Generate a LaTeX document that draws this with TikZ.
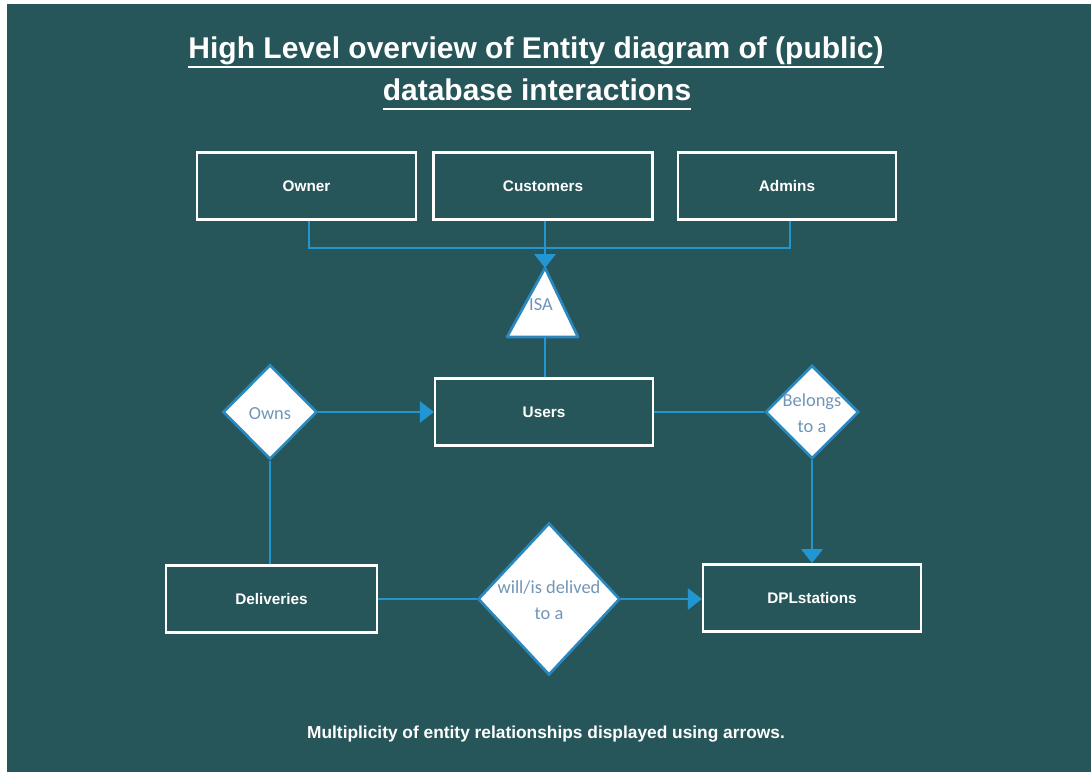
\documentclass[tikz,border=0pt]{standalone}
\usepackage{fontspec}
\setmainfont{Liberation Sans}
\newfontfamily\dfont{Carlito}
\usetikzlibrary{arrows.meta,shapes.geometric}
\definecolor{bg}{HTML}{27565A}
\definecolor{lnblue}{HTML}{2196D2}
\definecolor{dborder}{HTML}{2A88BE}
\definecolor{dtext}{HTML}{7095B8}
\newcommand{\dlab}[1]{\smash{\makebox[0pt]{\raisebox{-5.6pt}{\begin{tabular}{@{}c@{}}#1\end{tabular}}}}}
\begin{document}
\begin{tikzpicture}[x=0.75pt,y=-0.75pt,
  entity/.style={draw=white,line width=1.8pt,inner sep=0pt,minimum height=50.5pt,
    font=\fontsize{11.5}{14}\selectfont\bfseries,text=white},
  rel/.style={diamond,aspect=1,draw=dborder,line width=2pt,fill=white,inner sep=0pt,
    text=dtext,font=\dfont\fontsize{13.8}{19.5}\selectfont},
  conn/.style={draw=lnblue,line width=1.7pt},
  arr/.style={-{Triangle[length=10.5pt,width=16pt]}},
  title/.style={inner sep=0pt,text=white,font=\fontsize{22.5}{27}\selectfont\bfseries,anchor=base},
  uline/.style={draw=white,line width=1.5pt}]
\useasboundingbox (0,0) rectangle (1091,772);
\fill[white] (0,0) rectangle (1091,772);
\fill[bg] (7,4) rectangle (1091,772);

% title
\node[title] (t1) at (536,58) {High Level overview of Entity diagram of (public)};
\node[title] (t2) at (537,100) {database interactions};
\draw[uline] ([yshift=-6.5pt]t1.base west) -- ([yshift=-6.5pt]t1.base east);
\draw[uline] ([yshift=-6.5pt]t2.base west) -- ([yshift=-6.5pt]t2.base east);

% entities
\node[entity,minimum width=164pt] (owner) at (306.5,186) {Owner};
\node[entity,minimum width=164pt] (customers) at (543,186) {Customers};
\node[entity,minimum width=163.5pt] (admins) at (787,186) {Admins};
\node[entity,minimum width=163.5pt] (users) at (544,412) {Users};
\node[entity,minimum width=158.5pt] (deliveries) at (271.5,599) {Deliveries};
\node[entity,minimum width=163.5pt] (dpl) at (812,598) {DPLstations};

% ISA triangle
\coordinate (isatop) at (545,268);
\coordinate (isabot) at (545,337);
\draw[draw=dborder,line width=2pt,fill=white,line join=round] (isatop) -- (578,337) -- (507,337) -- cycle;
\node[inner sep=0pt,text=dtext,font=\dfont\fontsize{13.8}{16}\selectfont] (isa) at (541,305) {ISA};

% relationships
\node[rel,minimum width=70.5pt,minimum height=71pt] (owns) at (270,412) {\dlab{Owns}};
\node[rel,minimum width=70pt,minimum height=70pt] (belongs) at (812,412) {\dlab{Belongs\\to a}};
\node[rel,minimum width=106.5pt,minimum height=114pt] (will) at (549,599) {\dlab{will/is delived\\to a}};

% connectors
\coordinate (bar) at (545,248);
\draw[conn] ([xshift=2pt]owner.south) |- (bar) -| ([xshift=2.2pt]admins.south);
\draw[conn,arr] (customers.south -| isatop) -- (isatop);
\draw[conn] (isabot) -- (users.north -| isabot);
\draw[conn,arr] (owns.east) -- (users.west);
\draw[conn] (owns.south) -- (deliveries.north -| owns.south);
\draw[conn] (users.east) -- (belongs.west);
\draw[conn,arr] (belongs.south) -- (dpl.north -| belongs.south);
\draw[conn] (deliveries.east) -- (will.west);
\draw[conn,arr] (will.east) -- (dpl.west |- will.east);

% footer
\node[inner sep=0pt,text=white,font=\fontsize{13}{16}\selectfont\bfseries,anchor=base] (foot) at (546,738)
  {Multiplicity of entity relationships displayed using arrows.};
\end{tikzpicture}
\end{document}
